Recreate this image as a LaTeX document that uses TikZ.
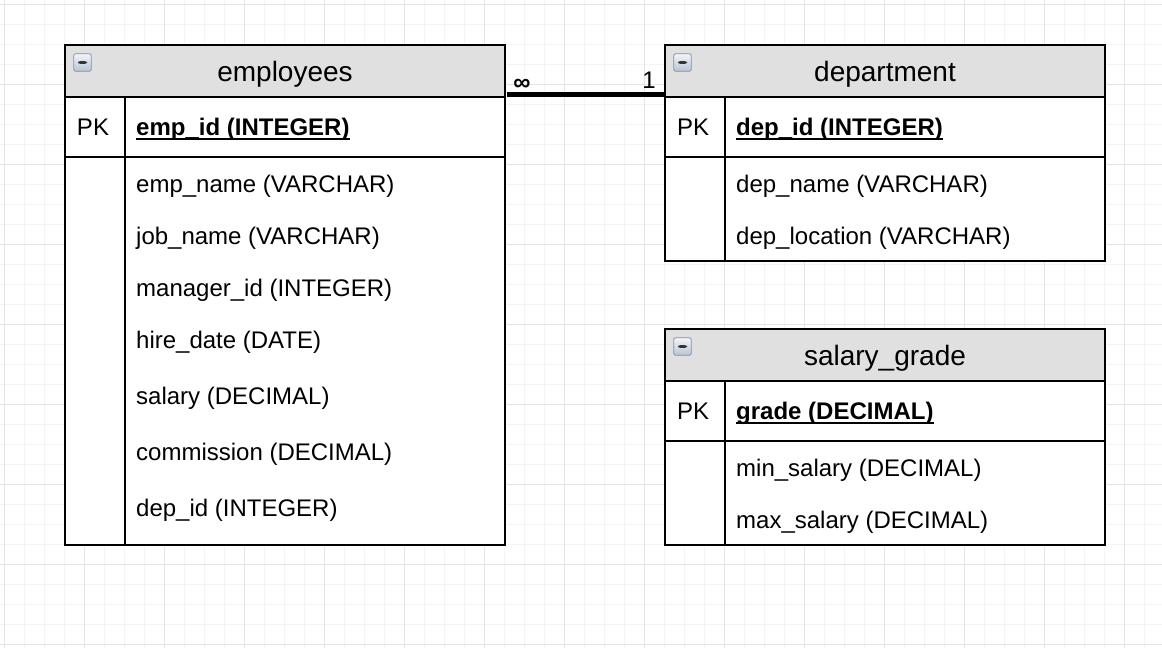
\documentclass[tikz,border=0pt]{standalone}
\usepackage{fontspec}
\setmainfont{Liberation Sans}
\usepackage{tikz}
\usetikzlibrary{positioning,calc}

\definecolor{hdrgray}{RGB}{224,224,224}
\definecolor{gridmin}{RGB}{244,244,244}
\definecolor{gridmaj}{RGB}{228,228,228}
\definecolor{icotop}{RGB}{242,245,249}
\definecolor{icobot}{RGB}{184,196,212}
\definecolor{icoline}{RGB}{130,146,166}

\begin{document}
\begin{tikzpicture}[x=1pt,y=-1pt,
    tblhead/.style={draw, line width=2pt, fill=hdrgray, minimum width=440pt, minimum height=52pt,
      inner sep=0pt, outer sep=0pt, text height=20pt, text depth=0pt, font=\fontsize{28}{32}\selectfont},
    tblrow/.style={draw, line width=2pt, fill=white, minimum width=440pt, inner sep=0pt, outer sep=0pt},
    tbline/.style={line width=2pt},
    keytxt/.style={inner sep=0pt, text height=17.2pt, text depth=0pt, font=\fontsize{24}{28}\selectfont},
    field/.style={keytxt, anchor=west},
    pkfield/.style={field, font=\fontsize{24}{28}\selectfont\bfseries},
    keyul/.style={line width=1.8pt},
    minusbox/.style={draw=icoline, line width=0.8pt, rounded corners=2pt, minimum size=17.5pt,
      inner sep=0pt, outer sep=0pt, top color=icotop, bottom color=icobot,
      path picture={\fill[black!80] ($(path picture bounding box.center)+(-4.5pt,-1.3pt)$)
        rectangle ($(path picture bounding box.center)+(4.5pt,1.3pt)$);}},
    relline/.style={line width=4.5pt},
    cardtxt/.style={inner sep=0pt, font=\fontsize{24}{28}\selectfont}]

  \useasboundingbox (0,0) rectangle (1162,648);
  \fill[white] (0,0) rectangle (1162,648);
  % grid
  \foreach \gx in {4,24,...,1164} \draw[gridmin, line width=1pt] (\gx,0) -- (\gx,648);
  \foreach \gy in {4,24,...,648} \draw[gridmin, line width=1pt] (0,\gy) -- (1162,\gy);
  \foreach \gx in {4,84,...,1164} \draw[gridmaj, line width=1pt] (\gx,0) -- (\gx,648);
  \foreach \gy in {4,84,...,648} \draw[gridmaj, line width=1pt] (0,\gy) -- (1162,\gy);

  % employees
  \node[tblhead, anchor=north west] (emp-hdr) at (65,45) {employees};
  \node[tblrow, minimum height=60pt, below=0pt of emp-hdr] (emp-pk) {};
  \node[tblrow, minimum height=388pt, below=0pt of emp-pk] (emp-body) {};
  \draw[tbline] ($(emp-pk.north west)+(60,0)$) -- ($(emp-body.south west)+(60,0)$);
  \node[minusbox] (emp-ico) at ($(emp-hdr.north west)+(17.5,17.5)$) {};
  \node[keytxt] (emp-pkl) at ($(emp-pk.west)+(28,0)$) {PK};
  \node[pkfield] (emp-key) at ($(emp-pk.west)+(71,0)$) {emp\_id (INTEGER)};
  \draw[keyul] ([yshift=-3.5pt]emp-key.base west) -- ([yshift=-3.5pt]emp-key.base east);
  \foreach \fy/\ftxt [count=\i] in {184/emp\_name (VARCHAR), 236/job\_name (VARCHAR),
      288/manager\_id (INTEGER), 340/hire\_date (DATE), 396/salary (DECIMAL),
      452/commission (DECIMAL), 508/dep\_id (INTEGER)}
    \node[field] (emp-f\i) at (136,\fy) {\ftxt};

  % department
  \node[tblhead, right=160pt of emp-hdr] (dep-hdr) {department};
  \node[tblrow, minimum height=60pt, below=0pt of dep-hdr] (dep-pk) {};
  \node[tblrow, minimum height=104pt, below=0pt of dep-pk] (dep-body) {};
  \draw[tbline] ($(dep-pk.north west)+(60,0)$) -- ($(dep-body.south west)+(60,0)$);
  \node[minusbox] (dep-ico) at ($(dep-hdr.north west)+(17.5,17.5)$) {};
  \node[keytxt] (dep-pkl) at ($(dep-pk.west)+(28,0)$) {PK};
  \node[pkfield] (dep-key) at ($(dep-pk.west)+(71,0)$) {dep\_id (INTEGER)};
  \draw[keyul] ([yshift=-3.5pt]dep-key.base west) -- ([yshift=-3.5pt]dep-key.base east);
  \foreach \fy/\ftxt [count=\i] in {184/dep\_name (VARCHAR), 236/dep\_location (VARCHAR)}
    \node[field] (dep-f\i) at (736,\fy) {\ftxt};

  % salary_grade
  \node[tblhead, below=68pt of dep-body] (sal-hdr) {salary\_grade};
  \node[tblrow, minimum height=60pt, below=0pt of sal-hdr] (sal-pk) {};
  \node[tblrow, minimum height=104pt, below=0pt of sal-pk] (sal-body) {};
  \draw[tbline] ($(sal-pk.north west)+(60,0)$) -- ($(sal-body.south west)+(60,0)$);
  \node[minusbox] (sal-ico) at ($(sal-hdr.north west)+(17.5,17.5)$) {};
  \node[keytxt] (sal-pkl) at ($(sal-pk.west)+(28,0)$) {PK};
  \node[pkfield] (sal-key) at ($(sal-pk.west)+(71,0)$) {grade (DECIMAL)};
  \draw[keyul] ([yshift=-3.5pt]sal-key.base west) -- ([yshift=-3.5pt]sal-key.base east);
  \foreach \fy/\ftxt [count=\i] in {468/min\_salary (DECIMAL), 520/max\_salary (DECIMAL)}
    \node[field] (sal-f\i) at (736,\fy) {\ftxt};

  % relation employees -> department
  \draw[relline] ([xshift=2pt,yshift=2.5pt]emp-hdr.south east) -- ([yshift=2.5pt]dep-hdr.south west);
  \node[cardtxt, font=\fontsize{24}{28}\selectfont\bfseries] (card-many) at (522,84.5) {∞};
  \node[cardtxt] (card-one) at (649,80) {1};
\end{tikzpicture}
\end{document}
